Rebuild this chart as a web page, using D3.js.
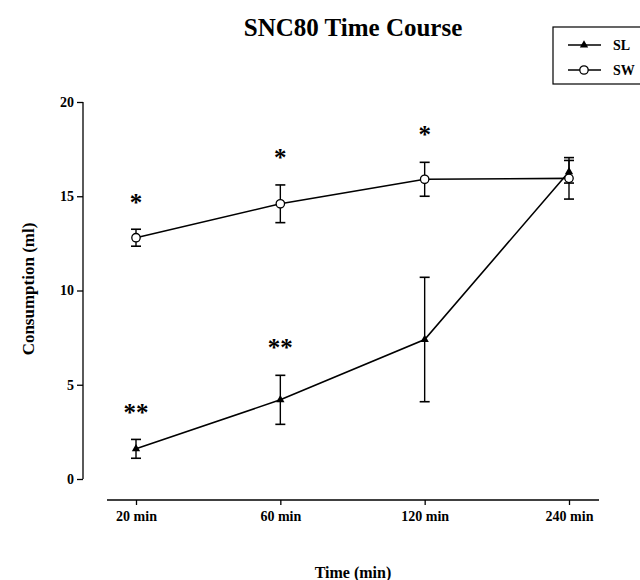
<!DOCTYPE html>
<html>
<head>
<meta charset="utf-8">
<script src="https://cdn.jsdelivr.net/npm/d3@7"></script>
<style>
  body { margin: 0; background: #fff; }
  text { font-family: "Liberation Serif", "Times New Roman", serif; font-weight: bold; fill: #000; }
</style>
</head>
<body>
<div id="chart"></div>
<script>
// data
var times = ["20 min", "60 min", "120 min", "240 min"];
var slMean = [1.6, 4.2, 7.4, 16.3];
var slErr = [0.5, 1.3, 3.3, 0.6];
var swMean = [12.8, 14.6, 15.9, 15.95];
var swErr = [0.45, 1.0, 0.9, 1.1];
var yTicks = [0, 5, 10, 15, 20];
// significance marks: [time index, y value, label]
var marks = [[0, 14.2, "*"], [1, 16.6, "*"], [2, 17.8, "*"], [0, 3.1, "**"], [1, 6.5, "**"]];

var width = 640, height = 580;

var svg = d3.select("#chart")
    .append("svg")
    .attr("width", width)
    .attr("height", height);

var x = d3.scalePoint()
    .domain(times)
    .range([136, 569]);

var y = d3.scaleLinear()
    .domain([0, 20])
    .range([479, 102]);

// title
svg.append("text")
    .attr("x", 353).attr("y", 36)
    .attr("text-anchor", "middle")
    .style("font-size", "25px")
    .text("SNC80 Time Course");

// y axis
var yAxis = svg.append("g")
    .attr("transform", "translate(83,0)")
    .call(d3.axisLeft(y).tickValues(yTicks).tickSize(6).tickPadding(3));
yAxis.selectAll("text").style("font-size", "14px");
yAxis.selectAll("line, path").attr("stroke", "#000").attr("stroke-width", 1.3);
yAxis.select(".domain").attr("d", "M0," + y(20) + "V" + y(0));

// x axis, drawn a little below the plot
var xAxis = svg.append("g")
    .attr("transform", "translate(0,500)")
    .call(d3.axisBottom(x).tickSize(5).tickPadding(6));
xAxis.selectAll("text").style("font-size", "14px");
xAxis.selectAll("line, path").attr("stroke", "#000").attr("stroke-width", 1.3);
xAxis.select(".domain").attr("d", "M107,0H599");

// axis titles
svg.append("text")
    .attr("transform", "translate(34,289) rotate(-90)")
    .attr("text-anchor", "middle")
    .style("font-size", "17px")
    .text("Consumption (ml)");

svg.append("text")
    .attr("x", 353).attr("y", 578)
    .attr("text-anchor", "middle")
    .style("font-size", "16px")
    .text("Time (min)");

var line = d3.line()
    .x(function(d, i) { return x(times[i]); })
    .y(function(d) { return y(d); });

function drawSeries(mean, err, marker) {
    var g = svg.append("g");
    g.append("path")
        .datum(mean)
        .attr("d", line)
        .attr("fill", "none")
        .attr("stroke", "#000")
        .attr("stroke-width", 1.6);

    mean.forEach(function(m, i) {
        var cx = x(times[i]);
        var top = y(m + err[i]), bot = y(m - err[i]);
        g.append("line").attr("x1", cx).attr("x2", cx).attr("y1", top).attr("y2", bot)
            .attr("stroke", "#000").attr("stroke-width", 1.4);
        [top, bot].forEach(function(v) {
            g.append("line").attr("x1", cx - 5).attr("x2", cx + 5).attr("y1", v).attr("y2", v)
                .attr("stroke", "#000").attr("stroke-width", 1.6);
        });
        drawMarker(g, marker, cx, y(m));
    });
}

function drawMarker(g, marker, cx, cy) {
    if (marker === "triangle") {
        g.append("path")
            .attr("transform", "translate(" + cx + "," + cy + ")")
            .attr("d", d3.symbol().type(d3.symbolTriangle).size(30))
            .attr("fill", "#000");
    } else {
        g.append("circle")
            .attr("cx", cx).attr("cy", cy).attr("r", 4.2)
            .attr("fill", "#fff")
            .attr("stroke", "#000")
            .attr("stroke-width", 1.3);
    }
}

drawSeries(slMean, slErr, "triangle");
drawSeries(swMean, swErr, "circle");

// significance stars
svg.selectAll(".mark")
    .data(marks)
    .enter().append("text")
    .attr("class", "mark")
    .attr("x", function(d) { return x(times[d[0]]); })
    .attr("y", function(d) { return y(d[1]); })
    .attr("text-anchor", "middle")
    .style("font-size", "25px")
    .text(function(d) { return d[2]; });

// legend
var legend = svg.append("g");
legend.append("rect")
    .attr("x", 553).attr("y", 27)
    .attr("width", 100).attr("height", 57)
    .attr("fill", "#fff")
    .attr("stroke", "#000")
    .attr("stroke-width", 1.2);

var legendItems = [["SL", "triangle", 45], ["SW", "circle", 70]];
legendItems.forEach(function(d) {
    legend.append("line")
        .attr("x1", 568).attr("x2", 601).attr("y1", d[2]).attr("y2", d[2])
        .attr("stroke", "#000").attr("stroke-width", 1.4);
    drawMarker(legend, d[1], 584, d[2]);
    legend.append("text")
        .attr("x", 613).attr("y", d[2] + 5)
        .style("font-size", "14px")
        .text(d[0]);
});
</script>
</body>
</html>
